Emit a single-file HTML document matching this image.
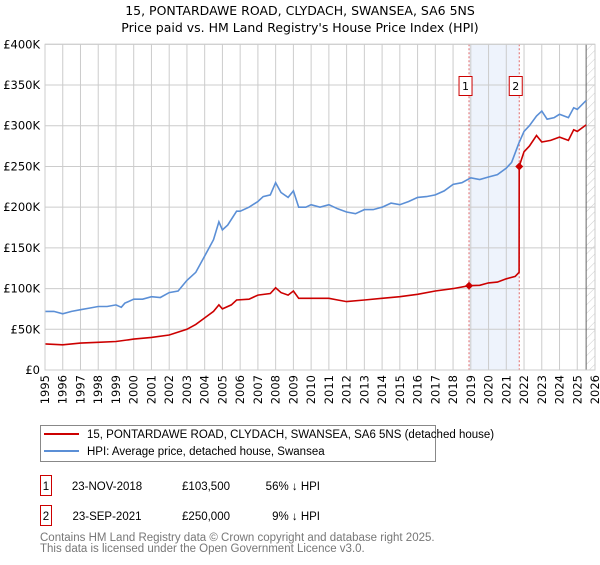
<!DOCTYPE html>
<html><head><meta charset="utf-8"><style>
body{margin:0;background:#fff;font-family:"Liberation Sans","DejaVu Sans",sans-serif;}
svg text{font-family:"DejaVu Sans","Liberation Sans",sans-serif;}
svg text.ls{font-family:"Liberation Sans","DejaVu Sans",sans-serif;}
</style></head><body>
<svg id="chart" width="600" height="560" xmlns="http://www.w3.org/2000/svg">
<defs><pattern id="hatch" width="6" height="6" patternUnits="userSpaceOnUse" patternTransform="rotate(45)"><line x1="0" y1="0" x2="0" y2="6" stroke="#ccc" stroke-width="1"/></pattern></defs>
<text x="300" y="15" text-anchor="middle" font-size="12.5">15, PONTARDAWE ROAD, CLYDACH, SWANSEA, SA6 5NS</text>
<text x="300" y="32" text-anchor="middle" font-size="12.5">Price paid vs. HM Land Registry's House Price Index (HPI)</text>
<g id="grid"></g><g id="series"></g><g id="axes"></g>
<g>
<rect x="40.5" y="425.5" width="395" height="36" fill="#fff" stroke="#888"/>
<line x1="44" y1="434" x2="79" y2="434" stroke="#cc0000" stroke-width="2"/>
<text class="ls" x="87" y="438" font-size="11.5">15, PONTARDAWE ROAD, CLYDACH, SWANSEA, SA6 5NS (detached house)</text>
<line x1="44" y1="451" x2="79" y2="451" stroke="#5b8fd6" stroke-width="2"/>
<text class="ls" x="87" y="455" font-size="11.5">HPI: Average price, detached house, Swansea</text>
</g>
<g>
<rect x="40.5" y="475.5" width="11" height="20" fill="#fff" stroke="#cc0000"/>
<text class="ls" x="46" y="490" font-size="11.5" text-anchor="middle">1</text>
<text class="ls" x="107" y="490" font-size="11.5" text-anchor="middle">23-NOV-2018</text>
<text class="ls" x="230" y="490" font-size="11.5" text-anchor="end">£103,500</text>
<text class="ls" x="320" y="490" font-size="11.5" text-anchor="end">56% ↓ HPI</text>
</g>
<g>
<rect x="40.5" y="505.5" width="11" height="20" fill="#fff" stroke="#cc0000"/>
<text class="ls" x="46" y="520" font-size="11.5" text-anchor="middle">2</text>
<text class="ls" x="107" y="520" font-size="11.5" text-anchor="middle">23-SEP-2021</text>
<text class="ls" x="230" y="520" font-size="11.5" text-anchor="end">£250,000</text>
<text class="ls" x="320" y="520" font-size="11.5" text-anchor="end">9% ↓ HPI</text>
</g>
<text class="ls" x="40" y="541" font-size="11.5" fill="#777">Contains HM Land Registry data © Crown copyright and database right 2025.</text>
<text class="ls" x="40" y="552" font-size="11.5" fill="#777">This data is licensed under the Open Government Licence v3.0.</text>
</svg>
<script>
const hpiYears=[1995,1995.5,1996,1996.5,1997,1997.5,1998,1998.5,1999,1999.3,1999.5,2000,2000.5,2001,2001.5,2002,2002.5,2003,2003.5,2004,2004.5,2004.8,2005,2005.3,2005.8,2006,2006.5,2007,2007.3,2007.7,2008,2008.3,2008.7,2009,2009.3,2009.7,2010,2010.5,2011,2011.5,2012,2012.5,2013,2013.5,2014,2014.5,2015,2015.5,2016,2016.5,2017,2017.5,2018,2018.5,2019,2019.5,2020,2020.5,2021,2021.3,2021.7,2022,2022.3,2022.7,2023,2023.3,2023.7,2024,2024.5,2024.8,2025,2025.5];
const hpiValues=[72,72,69,72,74,76,78,78,80,77,82,87,87,90,89,95,97,110,120,140,160,182,172,178,195,195,200,207,213,215,230,218,212,220,200,200,203,200,203,198,194,192,197,197,200,205,203,207,212,213,215,220,228,230,236,234,237,240,248,255,278,293,300,312,318,308,310,314,310,322,320,331];
const redYears=[1995,1996,1997,1998,1999,2000,2001,2002,2003,2003.5,2004,2004.5,2004.8,2005,2005.5,2005.8,2006.5,2007,2007.7,2008,2008.3,2008.7,2009,2009.3,2010,2011,2011.5,2012,2013,2014,2015,2016,2017,2018,2018.9,2019.5,2020,2020.5,2021,2021.5,2021.72,2021.73,2022,2022.3,2022.7,2023,2023.5,2024,2024.5,2024.8,2025,2025.5];
const redValues=[32,31,33,34,35,38,40,43,50,56,64,72,80,75,80,86,87,92,94,101,95,92,97,88,88,88,86,84,86,88,90,93,97,100,103.5,104,107,108,112,115,120,250,268,275,288,280,282,286,282,295,293,301];
const saleYears=[2018.9,2021.73];
const saleValues=[103.5,250];
const yTicks=[0,50,100,150,200,250,300,350,400];
const yLabels=["£0","£50K","£100K","£150K","£200K","£250K","£300K","£350K","£400K"];
const xTicks=[1995,1996,1997,1998,1999,2000,2001,2002,2003,2004,2005,2006,2007,2008,2009,2010,2011,2012,2013,2014,2015,2016,2017,2018,2019,2020,2021,2022,2023,2024,2025,2026];
const X0=45,X1=595,Y0=370,Y1=44.3;
const xs=y=>X0+(y-1995)/(2026-1995)*(X1-X0);
const ys=v=>Y0-v/400*(Y0-Y1);
const NS="http://www.w3.org/2000/svg";
function mk(tag,attrs,parent){const e=document.createElementNS(NS,tag);for(const k in attrs)e.setAttribute(k,attrs[k]);parent.appendChild(e);return e;}
const grid=document.getElementById('grid'),series=document.getElementById('series'),axes=document.getElementById('axes');
let e;
e=mk('rect',{x:xs(2018.9),y:Y1,width:xs(2021.73)-xs(2018.9),height:Y0-Y1,fill:'#eef3fc'},grid);


e=mk('rect',{x:xs(2025.5),y:Y1,width:X1-xs(2025.5),height:Y0-Y1,fill:'url(#hatch)'},grid);


yTicks.forEach((t,i)=>{
 mk('line',{x1:X0,x2:X1,y1:ys(t),y2:ys(t),stroke:'#ccc'},grid);
 e=mk('text',{x:40,y:ys(t)+4,'text-anchor':'end','font-size':'11.5'},axes);e.textContent=yLabels[i];
 
 
});
xTicks.forEach(t=>{
 mk('line',{x1:xs(t),x2:xs(t),y1:Y1,y2:Y0,stroke:'#ccc'},grid);
 e=mk('text',{x:0,y:0,'font-size':'11.5','text-anchor':'end',transform:`translate(${xs(t)+4},${Y0+5}) rotate(-90)`},axes);e.textContent=t;
 
 
});
mk('line',{x1:xs(2025.5),x2:xs(2025.5),y1:Y1,y2:Y0,stroke:'#666'},grid);
saleYears.forEach((y,i)=>{
 mk('line',{x1:xs(y),x2:xs(y),y1:Y1,y2:Y0,stroke:'#e06666','stroke-dasharray':'2,2'},grid);
 const g=mk('g',{},axes);
 
 
 mk('rect',{x:xs(y)-10,y:76.5,width:13,height:19,fill:'#fff',stroke:'#cc0000'},g);
 const t=mk('text',{x:xs(y)-3.5,y:90,'text-anchor':'middle','font-size':'11'},g);t.textContent=i+1;
});
const path=(xv,yv)=>xv.map((x,i)=>(i?'L':'M')+xs(x).toFixed(1)+','+ys(yv[i]).toFixed(1)).join(' ');
e=mk('path',{d:path(hpiYears,hpiValues),fill:'none',stroke:'#5b8fd6','stroke-width':1.6},series);


e=mk('path',{d:path(redYears,redValues),fill:'none',stroke:'#cc0000','stroke-width':1.6},series);


saleYears.forEach((y,i)=>{
 const cx=xs(y),cy=ys(saleValues[i]);
 e=mk('path',{d:`M${cx-4},${cy} L${cx},${cy-4} L${cx+4},${cy} L${cx},${cy+4}Z`,fill:'#cc0000'},series);
 
 
});
mk('rect',{x:X0,y:Y1,width:X1-X0,height:Y0-Y1,fill:'none',stroke:'#ccc'},axes);
</script>
</body></html>
